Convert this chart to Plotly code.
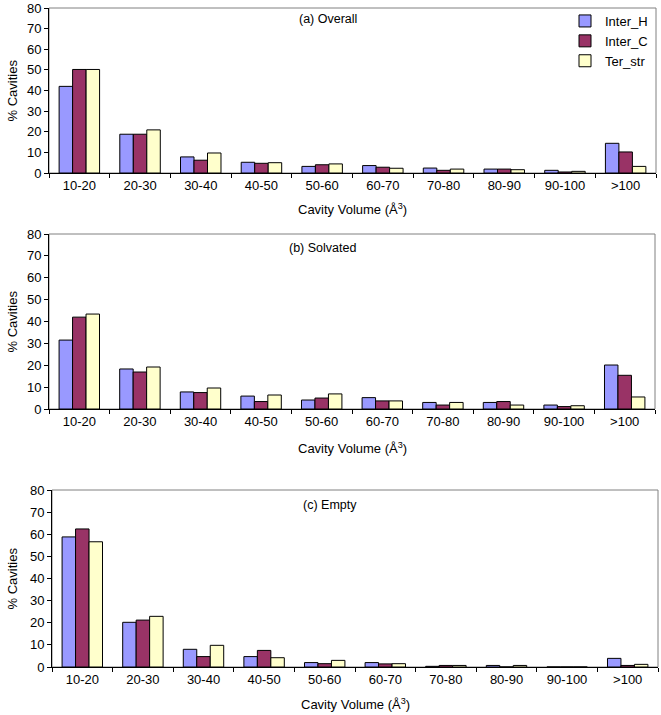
import plotly.graph_objects as go

categories = ["10-20", "20-30", "30-40", "40-50", "50-60", "60-70", "70-80", "80-90", "90-100", ">100"]
series_names = ["Inter_H", "Inter_C", "Ter_str"]
colors = ["#9999FF", "#993366", "#FFFFCC"]

overall_inter_h = [42.0, 18.8, 7.8, 5.2, 3.2, 3.6, 2.4, 1.9, 1.3, 14.4]
overall_inter_c = [50.2, 18.8, 6.2, 4.7, 4.0, 2.8, 1.3, 1.9, 0.5, 10.2]
overall_ter_str = [50.2, 20.9, 9.7, 5.0, 4.4, 2.3, 1.9, 1.6, 0.8, 3.2]

solvated_inter_h = [31.5, 18.3, 7.8, 5.9, 4.1, 5.2, 3.0, 3.0, 1.8, 20.1]
solvated_inter_c = [42.0, 16.9, 7.5, 3.4, 5.0, 3.7, 1.8, 3.4, 1.1, 15.4]
solvated_ter_str = [43.4, 19.2, 9.6, 6.4, 6.9, 3.7, 3.0, 1.8, 1.5, 5.5]

empty_inter_h = [58.8, 20.2, 8.0, 4.7, 2.0, 2.0, 0.3, 0.7, 0.0, 3.9]
empty_inter_c = [62.4, 21.2, 4.7, 7.5, 1.5, 1.4, 0.7, 0.0, 0.0, 0.7]
empty_ter_str = [56.6, 22.9, 9.8, 4.2, 3.0, 1.5, 0.7, 0.7, 0.0, 1.2]

panel_titles = ["(a) Overall", "(b) Solvated", "(c) Empty"]
y_ticks = [0, 10, 20, 30, 40, 50, 60, 70, 80]
x_title = "Cavity Volume (Å<sup>3</sup>)"
y_title = "% Cavities"

panels = [
    [overall_inter_h, overall_inter_c, overall_ter_str],
    [solvated_inter_h, solvated_inter_c, solvated_ter_str],
    [empty_inter_h, empty_inter_c, empty_ter_str],
]

W, H = 661, 715
# pixel geometry: (left, right, top, bottom)
geo = [(49, 656, 8, 173), (49, 655, 234, 409), (52, 658, 490, 667)]

FONT = "Liberation Sans, Arial, sans-serif"
fig = go.Figure()
layout = dict(
    width=W, height=H,
    margin=dict(l=0, r=0, t=0, b=0, autoexpand=False),
    paper_bgcolor="white", plot_bgcolor="white",
    barmode="group", bargap=0.333, bargroupgap=0,
    font=dict(family=FONT, size=13, color="black"),
    showlegend=True,
    legend=dict(x=565 / W, y=1 - 6 / H, xanchor="left", yanchor="top",
                bgcolor="rgba(0,0,0,0)", borderwidth=0,
                font=dict(size=13, family=FONT), tracegroupgap=0,
                itemwidth=30),
)
annotations = []
shapes = []
for i, data in enumerate(panels):
    xa = "x" if i == 0 else f"x{i+1}"
    ya = "y" if i == 0 else f"y{i+1}"
    for j, vals in enumerate(data):
        fig.add_trace(go.Bar(
            x=categories, y=vals, name=series_names[j],
            marker=dict(color=colors[j], line=dict(color="black", width=1)),
            xaxis=xa, yaxis=ya, showlegend=(i == 0),
        ))
    l, r, t, b = geo[i]
    xd = [l / W, r / W]
    yd = [1 - b / H, 1 - t / H]
    xkey = "xaxis" if i == 0 else f"xaxis{i+1}"
    ykey = "yaxis" if i == 0 else f"yaxis{i+1}"
    layout[xkey] = dict(
        domain=xd, anchor=ya, type="category", automargin=False,
        showline=True, linecolor="black", linewidth=1,
        ticks="outside", tickson="boundaries", ticklen=4, tickcolor="black",
        showgrid=False, tickfont=dict(size=13, family=FONT),
        range=[-0.5, 9.5],
    )
    layout[ykey] = dict(
        domain=yd, anchor=xa, range=[0, 80], tickvals=y_ticks, automargin=False,
        showline=True, linecolor="black", linewidth=1,
        ticks="outside", ticklen=4, tickcolor="black",
        showgrid=False, zeroline=False, tickfont=dict(size=13, family=FONT),
    )
    shapes.append(dict(type="rect", xref=f"{xa} domain", yref=f"{ya} domain",
                       x0=0, x1=1, y0=0, y1=1, line=dict(color="#808080", width=1),
                       layer="below"))
    cx = (l + r) / 2
    # panel title
    title_y = [19, 248, 505][i]
    title_x = [328, 322, 330][i]
    annotations.append(dict(text=panel_titles[i], x=title_x / W, y=1 - title_y / H,
                            xref="paper", yref="paper", showarrow=False,
                            xanchor="center", yanchor="middle",
                            font=dict(size=12.5, family=FONT)))
    # x title
    xt_y = [209, 448, 704][i]
    annotations.append(dict(text=x_title, x=cx / W, y=1 - xt_y / H,
                            xref="paper", yref="paper", showarrow=False,
                            xanchor="center", yanchor="middle",
                            font=dict(size=13, family=FONT)))
    # y title
    annotations.append(dict(text=y_title, x=12 / W, y=1 - ((t + b) / 2) / H,
                            xref="paper", yref="paper", showarrow=False,
                            xanchor="center", yanchor="middle", textangle=-90,
                            font=dict(size=13, family=FONT)))

layout["annotations"] = annotations
layout["shapes"] = shapes
fig.update_layout(**layout)
fig.write_html("out.html", config={"displayModeBar": False},
               post_script="document.body.style.margin='0';document.body.style.overflow='hidden';")
